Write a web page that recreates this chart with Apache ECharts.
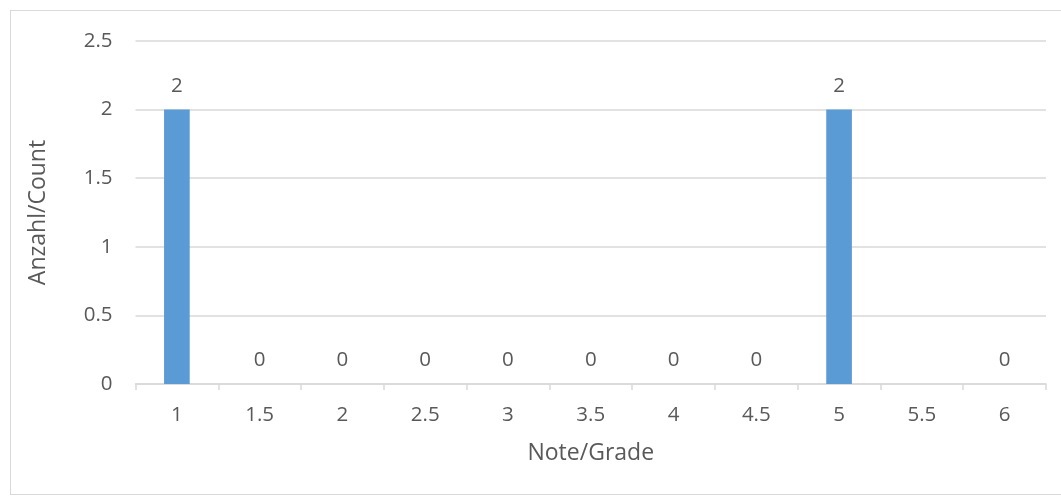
<!DOCTYPE html>
<html><head><meta charset="utf-8">
<script src="https://cdn.jsdelivr.net/npm/echarts@6/dist/echarts.min.js"></script>
<style>
html,body{margin:0;padding:0;background:#fff;}
#frame{position:absolute;left:10px;top:10px;width:1060px;height:485px;border:1px solid #D9D9D9;box-sizing:border-box;}
#c{position:absolute;left:0;top:0;width:1061px;height:497px;}
</style></head>
<body><div id="frame"></div><div id="c"></div>
<script>
const categories = ['1','1.5','2','2.5','3','3.5','4','4.5','5','5.5','6'];
const counts = [2,0,0,0,0,0,0,0,2,null,0];
const yTicks = [0,0.5,1,1.5,2,2.5];
const xTitle = 'Note/Grade';
const yTitle = 'Anzahl/Count';

const font = '"Open Sans", Lato, sans-serif';
const txt = '#595959';
const fs = 20.5, tfs = 23;
const chart = echarts.init(document.getElementById('c'), null, {renderer:'canvas'});
chart.setOption({
  animation:false,
  grid:{left:135.5,right:15,top:41,bottom:113,containLabel:false},
  xAxis:{type:'category',data:categories,name:xTitle,nameLocation:'middle',nameGap:58,
    nameTextStyle:{color:txt,fontFamily:font,fontSize:tfs},
    axisLine:{lineStyle:{color:'#D9D9D9',width:1.5}},
    axisTick:{show:true,alignWithLabel:false,length:6,lineStyle:{color:'#D9D9D9',width:1.5}},
    axisLabel:{color:txt,fontFamily:font,fontSize:fs,margin:21}},
  yAxis:{type:'value',min:yTicks[0],max:yTicks[yTicks.length-1],interval:0.5,name:yTitle,nameLocation:'middle',nameGap:86,
    nameTextStyle:{color:txt,fontFamily:font,fontSize:tfs},
    axisLine:{show:false},axisTick:{show:false},
    splitLine:{lineStyle:{color:'#D9D9D9',width:1.5}},
    axisLabel:{color:txt,fontFamily:font,fontSize:fs,margin:23}},
  series:[{type:'bar',data:counts,barWidth:'31%',itemStyle:{color:'#5B9BD5'},
    label:{show:true,position:'top',distance:13,color:txt,fontFamily:font,fontSize:fs}}]
});
</script></body></html>
